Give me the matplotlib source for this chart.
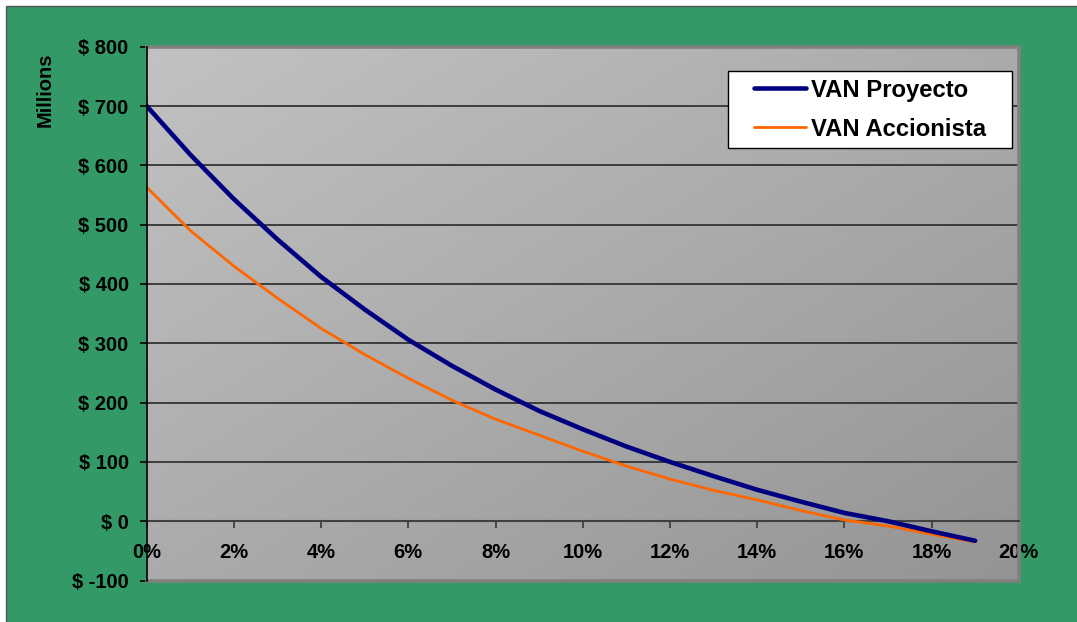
import numpy as np
import matplotlib
matplotlib.use("Agg")
import matplotlib.pyplot as plt
from matplotlib.patches import Rectangle
from matplotlib.legend_handler import HandlerLine2D

# Discount rate (%) and net present values (millions)
rates = [0, 1, 2, 3, 4, 5, 6, 7, 8, 9, 10, 11, 12, 13, 14, 15, 16, 17, 18, 19]
van_proyecto = [700, 618, 543, 475, 412, 357, 306, 262, 222, 186,
                155, 126, 100, 76, 53, 33, 14, 0, -17, -33]
van_accionista = [563, 490, 430, 376, 325, 281, 241, 204, 172, 145,
                  118, 93, 71, 52, 36, 18, 2, -8, -22, -35]

x_ticks = [0, 2, 4, 6, 8, 10, 12, 14, 16, 18, 20]
y_ticks = [-100, 0, 100, 200, 300, 400, 500, 600, 700, 800]
x_tick_labels = [f"{v}%" for v in x_ticks]
y_tick_labels = [f"$ {v}" for v in y_ticks]

plt.rcParams["font.family"] = ["Liberation Sans", "DejaVu Sans"]
plt.rcParams["font.weight"] = "bold"

W, H = 1077, 622
fig = plt.figure(figsize=(W / 100, H / 100), dpi=100)
fig.patch.set_facecolor("white")

# green chart area with thin frame on top / left
fig.patches.append(Rectangle((6 / W, -0.05), 1.2, 616 / H + 0.05,
                             transform=fig.transFigure, facecolor="#339966",
                             edgecolor="#555555", lw=1.0, zorder=-10))

ax = fig.add_axes([146.7 / W, 1 - 580.5 / H, 872 / W, 533.8 / H])
ax.set_xlim(0, 20)
ax.set_ylim(-100, 800)

# diagonal grey gradient for the plot area
n = 256
u, v = np.meshgrid(np.linspace(0, 1, n), np.linspace(0, 1, n))
t = (u + (1 - v)) / 2
light = np.array([194, 194, 194]) / 255
dark = np.array([148, 148, 148]) / 255
rgb = light[None, None, :] + t[..., None] * (dark - light)[None, None, :]
ax.imshow(rgb, extent=(0, 20, -100, 800), origin="lower", aspect="auto",
          zorder=0, interpolation="bilinear")

# horizontal grid lines
for yv in y_ticks[2:-1]:
    ax.axhline(yv, color="#333333", lw=1.3, zorder=1)

# plot-area border (top, right, bottom)
ax.plot([0, 1, 1, 0], [1, 1, 0, 0], transform=ax.transAxes, color="#808080",
        lw=2.6, solid_capstyle="projecting", solid_joinstyle="miter",
        clip_on=False, zorder=2)

ax.plot(rates, van_proyecto, color="#000080", lw=3.3, label="VAN Proyecto",
        zorder=4, solid_capstyle="round")
ax.plot(rates, van_accionista, color="#FF6600", lw=2.0, label="VAN Accionista",
        zorder=3, solid_capstyle="round")

for s in ["top", "right"]:
    ax.spines[s].set_visible(False)
ax.spines["left"].set_color("black")
ax.spines["left"].set_linewidth(1.2)
ax.spines["left"].set_zorder(5)
ax.spines["bottom"].set_position(("data", 0))
ax.spines["bottom"].set_color("#404040")
ax.spines["bottom"].set_linewidth(1.5)

ax.set_xticks(x_ticks)
ax.set_xticklabels(x_tick_labels)
ax.set_yticks(y_ticks)
ax.set_yticklabels(y_tick_labels)
ax.tick_params(axis="x", direction="out", length=5, width=1.3, color="#404040",
               pad=11, labelsize=14.5)
ax.tick_params(axis="y", direction="out", length=5, width=1.2, color="black",
               pad=8, labelsize=14.5)
for lab in ax.get_xticklabels() + ax.get_yticklabels():
    lab.set_fontweight("bold")

fig.text(45 / W, 1 - 90 / H, "Millions", rotation=90, ha="center", va="center",
         fontsize=14.5, fontweight="bold")


class InsetLineHandler(HandlerLine2D):
    """Legend line drawn only in the right part of the handle box."""
    line_len = 37.0  # points

    def get_xdata(self, legend, xdescent, ydescent, width, height, fontsize):
        x1 = -xdescent + width
        x0 = max(-xdescent, x1 - self.line_len)
        return np.array([x0, x1]), np.array([x0, x1])


leg_fs = 17.2
leg = ax.legend(loc="upper left",
                bbox_to_anchor=((728 - 146.7) / 872, 0.955,
                                (1012 - 728) / 872, 0.0),
                mode="expand", borderaxespad=0, frameon=True, fancybox=False,
                prop={"size": leg_fs, "weight": "bold"},
                handlelength=2.93, handletextpad=0.2, borderpad=0.33,
                labelspacing=0.67,
                handler_map={plt.Line2D: InsetLineHandler()})
leg.get_frame().set_edgecolor("black")
leg.get_frame().set_linewidth(1.0)
leg.get_frame().set_facecolor("white")
leg.get_frame().set_alpha(1)
leg.set_zorder(6)

fig.savefig("out.png", dpi=100, facecolor=fig.get_facecolor())
